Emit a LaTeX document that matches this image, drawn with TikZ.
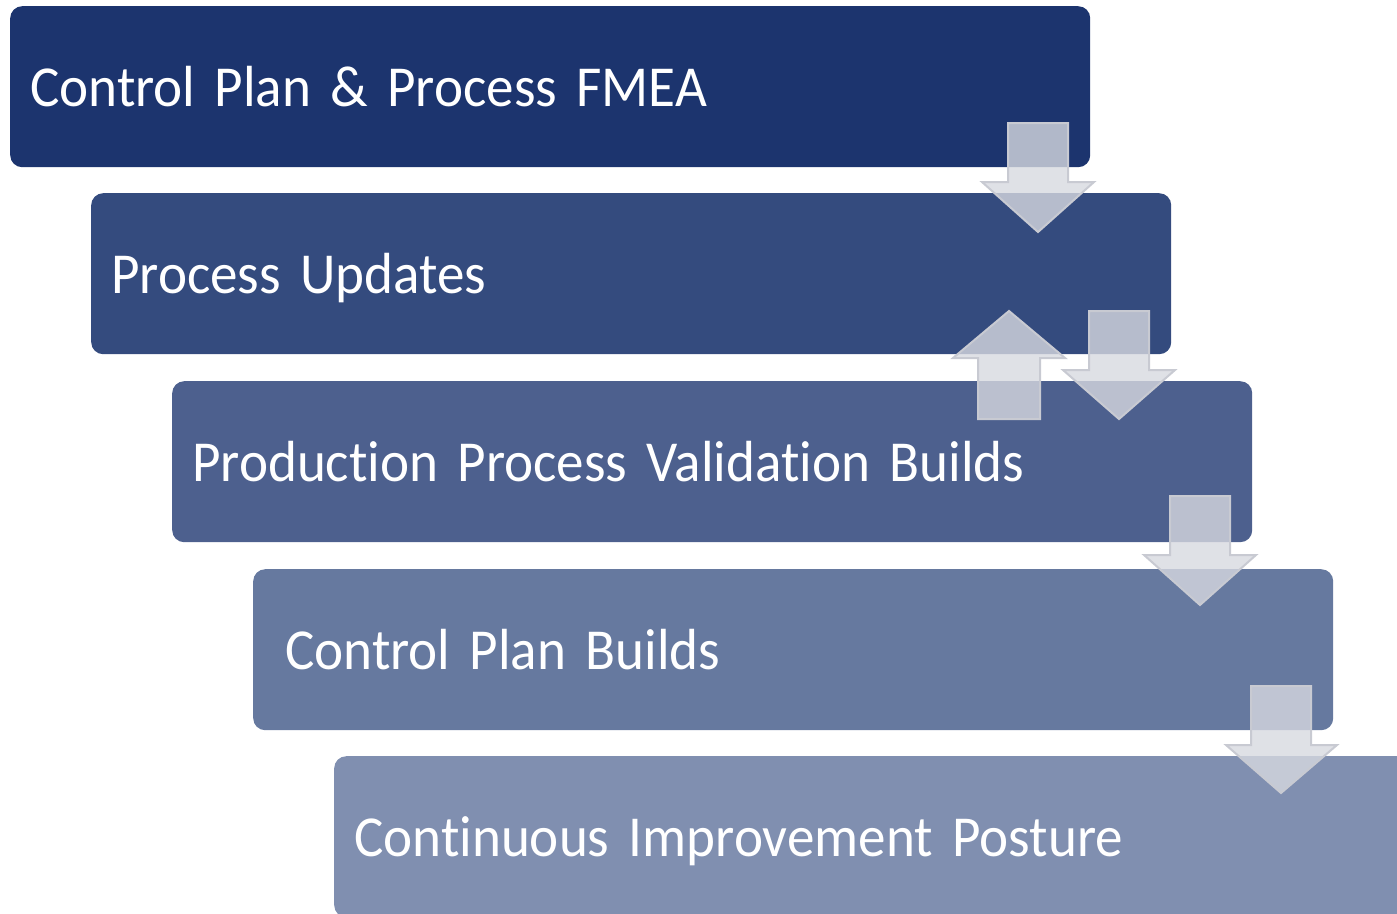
\documentclass[tikz,border=0pt]{standalone}
\usepackage{fontspec}
\setmainfont{Carlito}[RawFeature=-liga, FakeStretch=0.95]
\definecolor{stageA}{RGB}{28,52,110}
\definecolor{stageB}{RGB}{52,75,126}
\definecolor{stageC}{RGB}{77,96,142}
\definecolor{stageD}{RGB}{102,121,159}
\definecolor{stageE}{RGB}{128,143,176}
\definecolor{arrowfill}{RGB}{215,217,224}
\definecolor{arrowline}{RGB}{200,202,210}
\newcommand{\stagefont}{\fontsize{58}{62}\selectfont\spaceskip=9pt\relax}
\begin{document}
\begin{tikzpicture}[
        x=1pt, y=-1pt,
        stage/.style={rectangle, rounded corners=12pt, anchor=north west, minimum width=1080pt, minimum height=161pt, text width=1040pt, text height=50pt, text depth=11pt, inner xsep=20pt, text=white, font=\stagefont},
        blockarrow/.style={fill=arrowfill, fill opacity=0.8, draw=arrowline, line width=2pt, line join=miter}
    ]
        \useasboundingbox (0,0) rectangle (1397,913);

        % Stages
        \node[stage, fill=stageA] (fmea) at (10,6) {Control Plan \& Process FMEA};
        \node[stage, fill=stageB] (updates) at (91,193) {Process Updates};
        \node[stage, fill=stageC] (validation) at (172,381) {Production Process Validation Builds};
        \node[stage, fill=stageD, inner xsep=32pt, text width=1016pt] (builds) at (253,569) {Control Plan Builds};
        \node[stage, fill=stageE] (posture) at (334,756) {Continuous Improvement Posture};

        % Down arrow fmea -> updates
        \draw[blockarrow] (1008,123) -- (1068,123) -- (1068,182) -- (1094,182) -- (1038,232) -- (982,182) -- (1008,182) -- cycle;

        % Up arrow validation -> updates
        \draw[blockarrow] (978,419) -- (1040,419) -- (1040,358) -- (1065,358) -- (1009,311) -- (953,358) -- (978,358) -- cycle;

        % Down arrow updates -> validation
        \draw[blockarrow] (1089,311) -- (1149,311) -- (1149,370) -- (1175,370) -- (1119,419) -- (1063,370) -- (1089,370) -- cycle;

        % Down arrow validation -> builds
        \draw[blockarrow] (1170,496) -- (1230,496) -- (1230,555) -- (1256,555) -- (1200,605) -- (1144,555) -- (1170,555) -- cycle;

        % Down arrow builds -> posture
        \draw[blockarrow] (1251,686) -- (1311,686) -- (1311,745) -- (1337,745) -- (1281,793) -- (1226,745) -- (1251,745) -- cycle;

    \end{tikzpicture}
\end{document}
